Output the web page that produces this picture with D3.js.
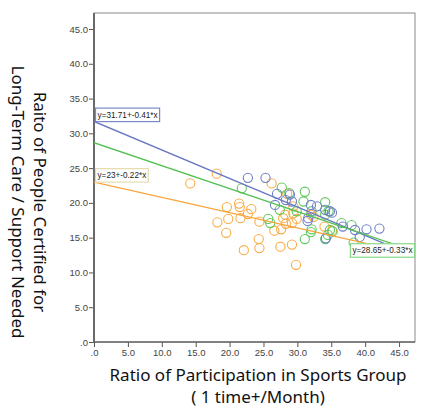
<!DOCTYPE html>
<html><head><meta charset="utf-8">
<script src="https://cdn.jsdelivr.net/npm/d3@7"></script>
<style>body{margin:0;background:#fff}svg{display:block}</style>
</head><body>
<svg id="c" width="422" height="408"></svg>
<script>
const xTicks=[0,5,10,15,20,25,30,35,40,45];
const yTicks=[0,5,10,15,20,25,30,35,40,45];
const orangePts=[[14.2,22.8],[18.1,24.2],[26.2,22.8],[21.4,19.9],[21.5,19.4],[19.6,19.4],[23.2,19.1],[22.7,18.4],[19.8,17.7],[18.2,17.2],[21.6,17.8],[24.4,17.3],[19.5,15.7],[24.3,14.8],[22.1,13.2],[24.4,13.5],[26.6,16.0],[27.6,16.2],[28.3,17.0],[27.5,13.7],[29.2,14.0],[29.8,11.1],[28.5,21.3],[28.2,18.3],[27.9,17.8],[29.4,18.5],[29.2,17.1],[32.0,18.3],[32.4,18.0],[34.0,16.6],[35.1,16.0],[29.9,17.7],[29.4,19.5]];
const greenPts=[[21.8,22.1],[27.7,22.2],[28.8,21.4],[31.1,21.6],[30.9,20.2],[34.1,20.1],[32.1,18.8],[29.9,18.8],[25.7,17.7],[26.0,17.1],[31.1,14.8],[32.1,16.2],[32.0,15.8],[34.8,16.1],[34.5,15.4],[34.1,14.8],[36.5,17.1],[38.0,16.8],[38.3,14.3],[34.6,18.8],[34.1,18.3],[35.2,15.9],[27.4,19.0]];
const bluePts=[[22.7,23.6],[25.3,23.6],[27.0,21.3],[26.7,19.7],[29.2,20.2],[32.0,19.7],[32.9,19.5],[34.1,19.0],[34.8,18.8],[31.6,17.8],[31.5,17.4],[34.2,14.9],[36.7,16.6],[38.5,16.1],[39.2,15.1],[40.2,16.2],[42.1,16.3],[35.1,18.6],[28.3,20.4],[28.9,21.2]];
const fits=[
 {name:"blue",a:31.71,b:-0.41,label:"y=31.71+-0.41*x"},
 {name:"green",a:28.65,b:-0.33,label:"y=28.65+-0.33*x"},
 {name:"orange",a:23,b:-0.22,label:"y=23+-0.22*x"}
];
const xMax=47.35, yMax=47.3;

const col={blue:"#6e7fc8",green:"#5ec95e",orange:"#f9ac48"};
const lineCol={blue:"#6777c2",green:"#56c156",orange:"#f8a43c"};
const svg=d3.select("#c");
const L=94,R=415,T=13,B=342;
const x=d3.scaleLinear().domain([0,xMax]).range([L,R]);
const y=d3.scaleLinear().domain([0,yMax]).range([B,T]);
const fmt=d=>d===0?".0":d3.format(".1f")(d);

svg.append("rect").attr("x",L).attr("y",T).attr("width",R-L).attr("height",B-T)
  .attr("fill","#fff").attr("stroke","#8a8a8a").attr("stroke-width",1);

const gx=svg.append("g").attr("transform",`translate(0,${B})`)
  .call(d3.axisBottom(x).tickValues(xTicks).tickFormat(fmt).tickSize(5).tickPadding(2));
const gy=svg.append("g").attr("transform",`translate(${L},0)`)
  .call(d3.axisLeft(y).tickValues(yTicks).tickFormat(fmt).tickSize(5).tickPadding(1));
[gx,gy].forEach(g=>{
  g.select(".domain").remove();
  g.selectAll("line").attr("stroke","#555");
  g.selectAll("text").attr("font-family","Liberation Sans, Arial, sans-serif").attr("font-size","9.5px").attr("fill","#444");
});
svg.append("line").attr("x1",L).attr("x2",L).attr("y1",T).attr("y2",B+0.5).attr("stroke","#6a6a6a").attr("stroke-width",2);
svg.append("line").attr("x1",L).attr("x2",R).attr("y1",B).attr("y2",B).attr("stroke","#6a6a6a").attr("stroke-width",1.5);

svg.append("clipPath").attr("id","pc").append("rect").attr("x",L).attr("y",T).attr("width",R-L).attr("height",B-T);
const plot=svg.append("g").attr("clip-path","url(#pc)");

const sets=[["orange",orangePts],["green",greenPts],["blue",bluePts]];
sets.forEach(([n,pts])=>{
  plot.selectAll("circle."+n).data(pts).enter().append("circle").attr("class",n)
   .attr("cx",d=>x(d[0])).attr("cy",d=>y(d[1])).attr("r",4.6)
   .attr("fill","none").attr("stroke",col[n]).attr("stroke-width",1.1);
});
fits.forEach(f=>{
  plot.append("line").attr("x1",x(0)).attr("y1",y(f.a)).attr("x2",x(xMax)).attr("y2",y(f.a+f.b*xMax))
   .attr("stroke",lineCol[f.name]).attr("stroke-width",1.3);
});

// fit labels
const labelPos={blue:{x:0.15,y:33.7,border:"#7a88c8"},orange:{x:0.15,y:25.0,border:"#e6dcae"},green:{x:37.0,y:14.2,border:"#86d886"}};
fits.forEach(f=>{
  const p=labelPos[f.name];
  const g=svg.append("g");
  const t=g.append("text").attr("x",x(p.x)+2.5).attr("y",y(p.y)+10).text(f.label)
   .attr("font-family","Liberation Sans, Arial, sans-serif").attr("font-size","8.2px").attr("fill","#222");
  const bb=t.node().getBBox();
  g.insert("rect","text").attr("x",x(p.x)+0.5).attr("y",y(p.y)+0.5).attr("width",bb.width+4).attr("height",13.5)
   .attr("fill","#fff").attr("stroke",p.border).attr("stroke-width",1.2);
  if(f.name==="green"){ const w=bb.width+4; g.attr("transform",`translate(${R-(x(p.x)+0.5+w)-0.5},0)`); }
});

// axis titles
const tf="Noto Sans, DejaVu Sans, sans-serif";
const fs="17px";
svg.append("text").attr("x",258).attr("y",381).attr("text-anchor","middle").attr("font-family",tf).attr("font-size",fs).attr("fill","#111").text("Ratio of Participation in Sports Group");
svg.append("text").attr("x",258).attr("y",403).attr("text-anchor","middle").attr("font-family",tf).attr("font-size",fs).attr("fill","#111").text("( 1 time+/Month)");
const yt=svg.append("g").attr("transform","translate(34,202) rotate(90)");
yt.append("text").attr("x",0).attr("y",0).attr("text-anchor","middle").attr("font-family",tf).attr("font-size",fs).attr("fill","#111").text("Raito of People Certified for");
yt.append("text").attr("x",0).attr("y",22).attr("text-anchor","middle").attr("font-family",tf).attr("font-size",fs).attr("fill","#111").text("Long-Term Care / Support Needed");
</script>
</body></html>
